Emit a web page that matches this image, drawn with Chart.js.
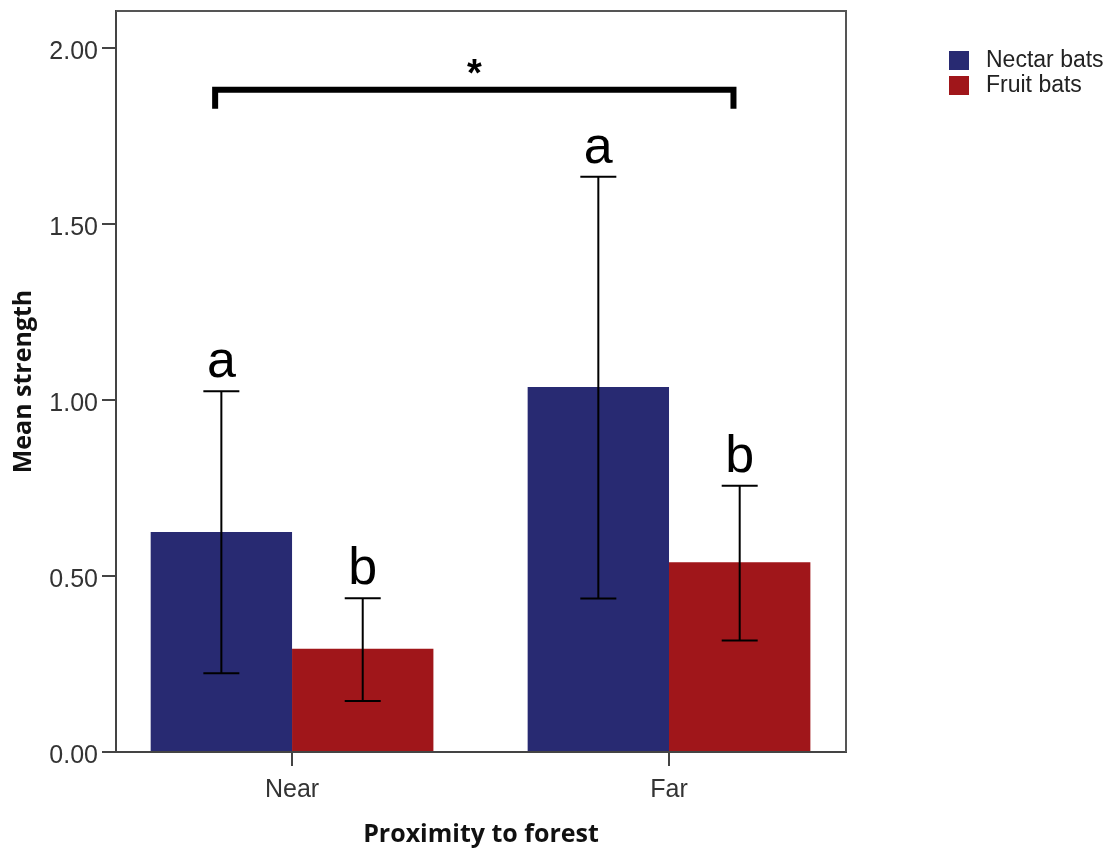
<!DOCTYPE html>
<html>
<head>
<meta charset="utf-8">
<script src="https://cdn.jsdelivr.net/npm/chart.js@4.4.1/dist/chart.umd.min.js"></script>
<style>
  body { margin: 0; background: #fff; }
  #wrap { width: 1113px; height: 855px; position: relative; }
</style>
</head>
<body>
<div id="wrap"><canvas id="myChart"></canvas></div>
<script>
// data
var categories = ['Near', 'Far'];
var seriesNames = ['Nectar bats', 'Fruit bats'];
var nectarMeans = [0.625, 1.037];
var fruitMeans = [0.293, 0.539];
var nectarLow = [0.224, 0.436];
var nectarHigh = [1.025, 1.634];
var fruitLow = [0.145, 0.317];
var fruitHigh = [0.437, 0.756];
var nectarLetters = ['a', 'a'];
var fruitLetters = ['b', 'b'];
var yTicks = [0, 0.5, 1, 1.5, 2];
// significance bracket between the two proximity groups
var bracketFrom = -0.204, bracketTo = 1.171, bracketY = 1.881, bracketFoot = 1.827;
var bracketLabel = '*';

var navy = '#282A72';
var red = '#A0161A';

function points(vals) {
    return vals.map(function (v, i) { return { x: i, y: v }; });
}

var errorBars = [
    { low: nectarLow, high: nectarHigh, letters: nectarLetters },
    { low: fruitLow, high: fruitHigh, letters: fruitLetters }
];

var extras = {
    id: 'extras',
    afterDatasetsDraw: function (chart) {
        var ctx = chart.ctx;
        var area = chart.chartArea;
        var y = chart.scales.y, x = chart.scales.x;
        ctx.save();

        // frame top and right
        ctx.strokeStyle = '#555';
        ctx.lineWidth = 2;
        ctx.beginPath();
        ctx.moveTo(area.left, area.top);
        ctx.lineTo(area.right, area.top);
        ctx.lineTo(area.right, area.bottom);
        ctx.stroke();

        // error bars + letters
        errorBars.forEach(function (eb, di) {
            var meta = chart.getDatasetMeta(di);
            meta.data.forEach(function (bar, i) {
                var hi = y.getPixelForValue(eb.high[i]);
                var lo = y.getPixelForValue(eb.low[i]);
                ctx.strokeStyle = '#000';
                ctx.lineWidth = 2;
                ctx.beginPath();
                ctx.moveTo(bar.x, hi); ctx.lineTo(bar.x, lo);
                ctx.moveTo(bar.x - 18, hi); ctx.lineTo(bar.x + 18, hi);
                ctx.moveTo(bar.x - 18, lo); ctx.lineTo(bar.x + 18, lo);
                ctx.stroke();
                ctx.fillStyle = '#000';
                ctx.font = '52px "Liberation Sans", Arial, sans-serif';
                ctx.textAlign = 'center';
                ctx.textBaseline = 'alphabetic';
                ctx.fillText(eb.letters[i], bar.x, hi - 14);
            });
        });

        // bracket
        var bx1 = x.getPixelForValue(bracketFrom), bx2 = x.getPixelForValue(bracketTo);
        var by = y.getPixelForValue(bracketY), bf = y.getPixelForValue(bracketFoot);
        ctx.strokeStyle = '#000';
        ctx.lineWidth = 6;
        ctx.lineJoin = 'miter';
        ctx.beginPath();
        ctx.moveTo(bx1, bf); ctx.lineTo(bx1, by); ctx.lineTo(bx2, by); ctx.lineTo(bx2, bf);
        ctx.stroke();
        ctx.font = 'bold 38px "Liberation Sans", Arial, sans-serif';
        ctx.textAlign = 'center';
        ctx.fillText(bracketLabel, (bx1 + bx2) / 2, by - 4);

        // legend
        ctx.font = '23px "Liberation Sans", Arial, sans-serif';
        ctx.textAlign = 'left';
        ctx.textBaseline = 'middle';
        chart.data.datasets.forEach(function (ds, i) {
            var top = 51 + i * 25;
            ctx.fillStyle = ds.backgroundColor;
            ctx.fillRect(949, top, 20, 19);
            ctx.fillStyle = '#222';
            ctx.fillText(ds.label, 986, top + 9.5);
        });
        ctx.restore();
    }
};

document.addEventListener('DOMContentLoaded', function () {
    var ctx = document.getElementById('myChart').getContext('2d');
    var myChart = new Chart(ctx, {
        type: 'bar',
        data: {
            datasets: [{
                label: seriesNames[0],
                data: points(nectarMeans),
                backgroundColor: navy,
                borderWidth: 0
            }, {
                label: seriesNames[1],
                data: points(fruitMeans),
                backgroundColor: red,
                borderWidth: 0
            }]
        },
        options: {
            responsive: true,
            maintainAspectRatio: false,
            animation: false,
            categoryPercentage: 0.75,
            barPercentage: 1,
            layout: { padding: { top: 11, right: 267, left: 0, bottom: 0 } },
            plugins: {
                legend: { display: false },
                tooltip: { enabled: false }
            },
            scales: {
                x: {
                    type: 'linear',
                    min: -0.467,
                    max: 1.4695,
                    offset: false,
                    afterFit: function (s) { s.height = 103; s.paddingLeft = 0; s.paddingRight = 0; },
                    grid: { offset: false, drawOnChartArea: false, tickLength: 14, color: '#444', lineWidth: 2 },
                    border: { color: '#444', width: 2 },
                    ticks: {
                        stepSize: 1,
                        includeBounds: false,
                        padding: 9,
                        color: '#333',
                        font: { family: '"Liberation Sans", Arial, sans-serif', size: 25 },
                        callback: function (v) { return categories[v] !== undefined ? categories[v] : ''; }
                    },
                    title: {
                        display: true,
                        text: 'Proximity to forest',
                        color: '#111',
                        font: { family: '"Open Sans", sans-serif', size: 25, weight: 'bold' },
                        padding: { top: 0, bottom: 5 }
                    }
                },
                y: {
                    min: 0,
                    max: 2.105,
                    afterFit: function (s) { s.width = 116; s.paddingTop = 0; s.paddingBottom = 0; },
                    afterBuildTicks: function (s) { s.ticks = yTicks.map(function (v) { return { value: v }; }); },
                    grid: { drawOnChartArea: false, tickLength: 14, color: '#444', lineWidth: 2 },
                    border: { color: '#444', width: 2 },
                    ticks: {
                        padding: 4,
                        labelOffset: 4,
                        color: '#333',
                        font: { family: '"Liberation Sans", Arial, sans-serif', size: 25 },
                        callback: function (v) { return v.toFixed(2); }
                    },
                    title: {
                        display: true,
                        text: 'Mean strength',
                        color: '#111',
                        font: { family: '"Open Sans", sans-serif', size: 25, weight: 'bold' },
                        padding: { top: 9, bottom: 0 }
                    }
                }
            }
        },
        plugins: [extras]
    });
});
</script>
</body>
</html>
